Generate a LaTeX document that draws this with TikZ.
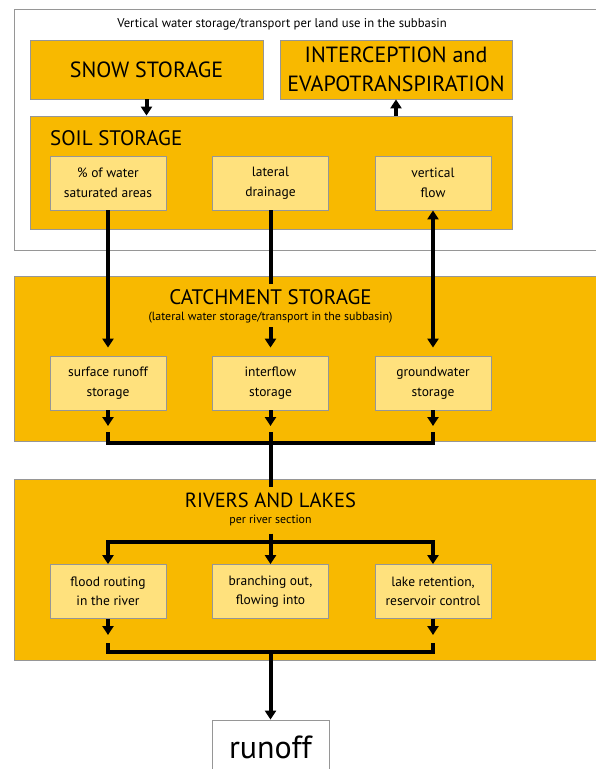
\documentclass[tikz,border=0pt]{standalone}
\usepackage{fontspec}
\setmainfont{PT Sans}
\usetikzlibrary{arrows.meta}
\definecolor{bandc}{RGB}{248,185,0}
\definecolor{innerc}{RGB}{255,225,125}
\definecolor{edgec}{RGB}{150,150,150}
\begin{document}
\begin{tikzpicture}[x=1pt,y=-1pt,
  band/.style={draw=edgec,fill=bandc,line width=0.8pt,inner sep=0pt},
  innerbox/.style={draw=edgec,fill=innerc,line width=0.8pt,minimum width=116pt,minimum height=54pt,align=center,inner sep=0pt,font=\fontsize{13.5}{19.5}\selectfont},
  tip/.tip={Triangle[width=11pt,length=9pt]},
  link/.style={line width=4pt,line join=miter},
  flow/.style={link,-tip},
  bigfont/.style={font=\fontsize{22}{29}\selectfont},
  smallfont/.style={font=\fontsize{11.9}{13}\selectfont},
]
\useasboundingbox (0,0) rectangle (596,769);
\clip (0,0) rectangle (596,769);
% top frame
\node[draw=edgec,line width=0.8pt,fill=white,minimum width=606pt,minimum height=241pt,inner sep=0pt] (frame) at (317,129.5) {};
\node[font=\fontsize{12.7}{14}\selectfont] (vtitle) at (282,24) {Vertical water storage/transport per land use in the subbasin};
\node[band,bigfont,minimum width=233pt,minimum height=59pt] (snow) at (146.5,69.5) {SNOW STORAGE};
\node[band,bigfont,minimum width=232pt,minimum height=59pt,align=center] (interc) at (396,69.5) {INTERCEPTION and\\EVAPOTRANSPIRATION};
\node[band,minimum width=482pt,minimum height=113pt] (soil) at (271,172.5) {};
\node[font=\fontsize{21}{26}\selectfont,anchor=west,inner sep=0pt] (soillbl) at (50,138) {SOIL STORAGE};
\node[innerbox] (s1) at (108,183) {\% of water\\saturated areas};
\node[innerbox] (s2) at (270.5,183) {lateral\\drainage};
\node[innerbox] (s3) at (433,183) {vertical\\flow};
% catchment
\node[band,minimum width=606pt,minimum height=165pt] (catch) at (317,358.5) {};
\node[font=\fontsize{21}{26}\selectfont,inner ysep=5pt] (ctitleA) at (270.5,297) {CATCHMENT STORAGE};
\node[smallfont] (ctitleB) at (270.5,318) {(lateral water storage/transport in the subbasin)};
\node[innerbox] (c1) at (108,383) {surface runoff\\storage};
\node[innerbox] (c2) at (270.5,383) {interflow\\storage};
\node[innerbox] (c3) at (433,383) {groundwater\\storage};
% rivers
\node[band,minimum width=606pt,minimum height=181pt] (rivers) at (317,569.5) {};
\node[font=\fontsize{20.5}{26}\selectfont,inner ysep=5pt] (rtitleA) at (270.5,500) {RIVERS AND LAKES};
\node[smallfont,inner ysep=8pt] (rtitleB) at (270.5,520) {per river section};
\node[innerbox] (r1) at (108,591.5) {flood routing\\in the river};
\node[innerbox] (r2) at (270.5,591.5) {branching out,\\flowing into};
\node[innerbox] (r3) at (433,591.5) {lake retention,\\reservoir control};
% runoff
\node[draw=edgec,fill=white,line width=0.8pt,minimum width=117pt,minimum height=55pt,inner sep=0pt,font=\fontsize{32}{38}\selectfont] (runoff) at (270.5,747.5) {runoff};
% coordinates
\coordinate (ca1) at (108,426);
\coordinate (ca2) at (270.5,426);
\coordinate (ca3) at (433,426);
\coordinate (cb1) at (108,432);
\coordinate (cb3) at (433,432);
\coordinate (cbm) at (270.5,432);
\coordinate (cj) at (270.5,443);
\coordinate (rj) at (270.5,542);
\coordinate (ra1) at (108,635);
\coordinate (ra3) at (433,635);
\coordinate (rb1) at (108,643);
\coordinate (rb3) at (433,643);
\coordinate (rbj) at (270.5,652);
% connectors
\draw[flow] (snow.south) -- (snow.south |- soil.north);
\draw[flow] (interc.south |- soil.north) -- (interc.south);
\draw[flow,shorten >=8pt] (s1.south) -- (c1.north);
\draw[link] (s2.south) -- (ctitleA.north);
\draw[flow,shorten >=8pt] (ctitleB.south) -- (c2.north);
\draw[link,tip-tip,shorten >=8pt] (s3.south) -- (c3.north);
\draw[flow] (c1.south) -- (ca1);
\draw[flow] (c2.south) -- (ca2);
\draw[flow] (c3.south) -- (ca3);
\draw[link] (cb1) -- (cb1 |- cj) -- (cb3 |- cj) -- (cb3);
\draw[link] (cbm) -- (rtitleA.north);
\draw[flow] (rtitleB.south) -- (r2.north);
\draw[link,tip-tip] (r1.north) -- (r1.north |- rj) -- (r3.north |- rj) -- (r3.north);
\draw[flow] (r1.south) -- (ra1);
\draw[flow] (r3.south) -- (ra3);
\draw[link] (rb1) -- (rb1 |- rbj) -- (rb3 |- rbj) -- (rb3);
\draw[flow] (rbj) -- (runoff.north);
\end{tikzpicture}
\end{document}
